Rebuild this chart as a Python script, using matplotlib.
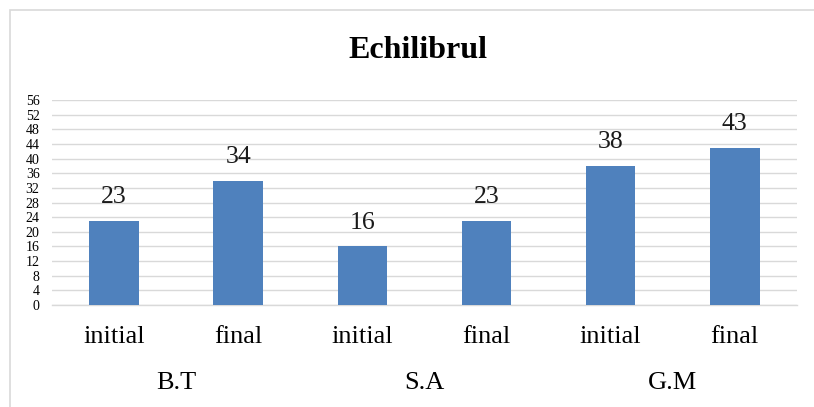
import matplotlib.pyplot as plt
import matplotlib.patches as mpatches
import matplotlib.transforms as mtransforms

plt.rcParams['font.family'] = ['Liberation Serif', 'DejaVu Serif']

stages = ['initial', 'final', 'initial', 'final', 'initial', 'final']
groups = ['B.T', 'S.A', 'G.M']
values = [23, 34, 16, 23, 38, 43]

fig = plt.figure(figsize=(8.14, 4.07), dpi=100)
ax = fig.add_axes([0.0639, 0.2506, 0.915, 0.5037])

x = list(range(len(values)))
bars = ax.bar(x, values, width=0.4, color='#4F81BD', zorder=3)

for xi, v in zip(x, values):
    ax.annotate(str(v), (xi, v), xytext=(0, 9), textcoords='offset points',
                ha='center', va='bottom', fontsize=18.5, color='#1a1a1a')

ax.set_xlim(-0.5, len(values) - 0.5)
ax.set_ylim(0, 56)
ax.set_yticks(range(0, 57, 4))
ax.tick_params(axis='y', labelsize=10, length=0, pad=9)
ax.set_xticks(x)
ax.set_xticklabels(stages, fontsize=19)
ax.tick_params(axis='x', length=0, pad=15)
ax.grid(axis='y', color='#D9D9D9', linewidth=1, zorder=0)
for s in ['top', 'right', 'left']:
    ax.spines[s].set_visible(False)
ax.spines['bottom'].set_color('#D9D9D9')
ax.spines['bottom'].set_linewidth(1)

trans = mtransforms.blended_transform_factory(ax.transData, fig.transFigure)
for i, g in enumerate(groups):
    ax.text(2 * i + 0.5, 1 - 383 / 407, g, transform=trans, ha='center',
            va='center', fontsize=19)

fig.text(0.514, 1 - 50 / 407, 'Echilibrul', ha='center', va='center',
         fontsize=23, fontweight='bold')

fig.patches.append(mpatches.Rectangle((10 / 814, -0.1), 1.2, 1 - 10 / 407 + 0.1,
                                      transform=fig.transFigure, fill=False,
                                      edgecolor='#D9D9D9', linewidth=1.2))

fig.savefig('out.png', dpi=100)
